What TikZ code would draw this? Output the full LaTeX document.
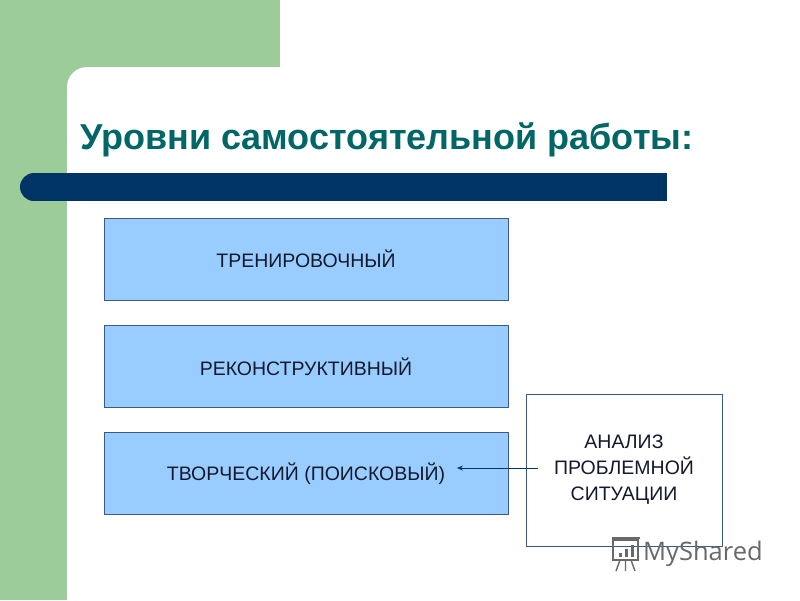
\documentclass[tikz,border=0pt]{standalone}
\usepackage{fontspec}
\setmainfont{Liberation Sans}
\newfontfamily\logofont{Open Sans}
\usetikzlibrary{arrows.meta}
\definecolor{greenbg}{RGB}{155,204,153}
\definecolor{navybar}{RGB}{0,51,102}
\definecolor{titlecol}{RGB}{0,102,102}
\definecolor{boxfill}{RGB}{153,204,255}
\definecolor{boxline}{RGB}{60,90,135}
\definecolor{txtcol}{RGB}{20,25,45}
\definecolor{logocol}{RGB}{105,105,105}
\tikzset{
  levelbox/.style={draw=boxline, line width=0.9pt, fill=boxfill, minimum width=404pt, minimum height=82pt, inner sep=0pt, font=\fontsize{19.5}{22}\selectfont, text=txtcol},
  sidebox/.style={draw=boxline, line width=0.8pt, fill=white, minimum width=196pt, minimum height=152pt, inner sep=0pt, align=center, font=\fontsize{19.5}{26}\selectfont, text=txtcol},
  conn/.style={draw=navybar, line width=0.8pt, -{Stealth[length=6pt,width=5pt]}}
}
\begin{document}
\begin{tikzpicture}[x=1pt,y=-1pt]
\useasboundingbox (0,0) rectangle (800,600);
\clip (0,0) rectangle (800,600);
\fill[white] (0,0) rectangle (800,600);
% green background
\fill[greenbg] (0,0) rectangle (280,90);
\fill[greenbg] (0,0) rectangle (67,600);
\fill[white, rounded corners=20pt] (67,67) rectangle (830,630);
% title
\node[anchor=base west, inner sep=0pt, text=titlecol, font=\fontsize{36}{40}\selectfont\bfseries] (title) at (80,149) {Уровни самостоятельной работы:};
% bar
\fill[navybar] (34,173) rectangle (667,201);
\fill[navybar] (34,187) circle (14);
% boxes
\node[levelbox] (b1) at (306,259) {ТРЕНИРОВОЧНЫЙ};
\node[levelbox] (b2) at (306,366.5) {РЕКОНСТРУКТИВНЫЙ};
\node[levelbox] (b3) at (306,473.5) {ТВОРЧЕСКИЙ (ПОИСКОВЫЙ)};
\node[sidebox] (an) at (624,470) {АНАЛИЗ\\ПРОБЛЕМНОЙ\\СИТУАЦИИ};
\coordinate (arS) at (538,468);
\coordinate (arE) at (457,468);
\draw[conn] (arS) -- (arE);
% watermark
\node[anchor=west, inner sep=0pt, text=logocol, font=\logofont\fontsize{25.5}{27}\selectfont] (logo) at (643,554) {MyShared};
\draw[logocol, line width=1.6pt] (613,540) rectangle (638,560);
\draw[logocol, line width=1.2pt] (612,538) -- (640,538);
\fill[logocol] (619,553) rectangle (622,557);
\fill[logocol] (625,549) rectangle (628,557);
\fill[logocol] (631,545) rectangle (634,557);
\draw[logocol, line width=1.4pt] (620,560) -- (616,571) (625.5,560) -- (625.5,571) (631,560) -- (635,571);
\end{tikzpicture}
\end{document}
